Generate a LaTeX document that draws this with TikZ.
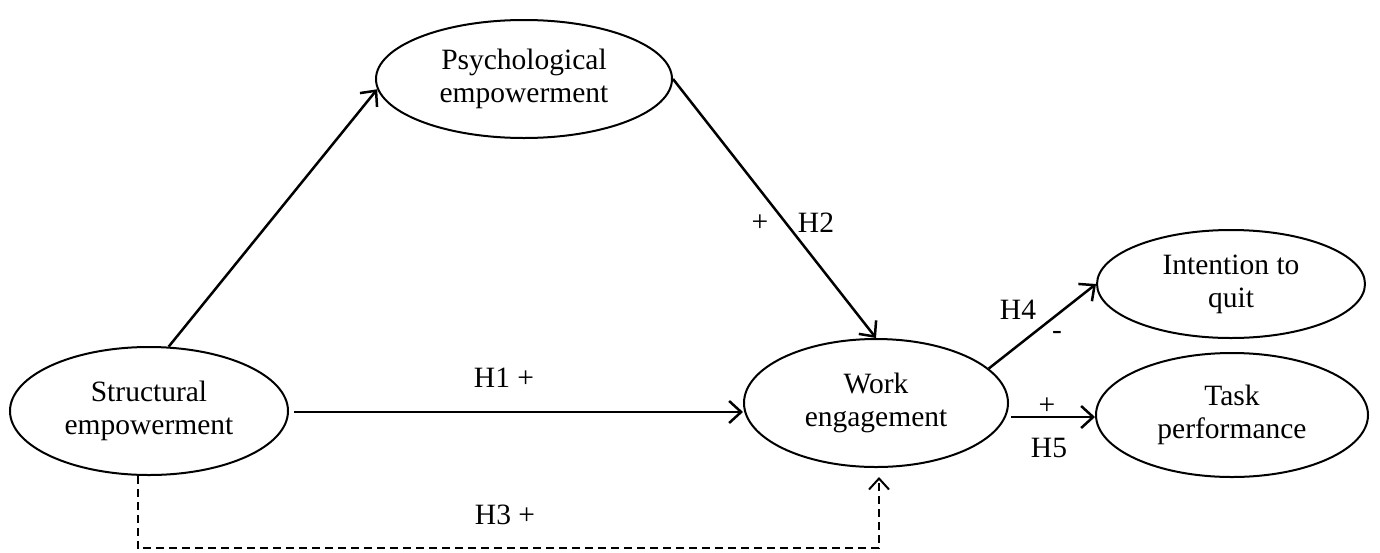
\documentclass[tikz,border=0pt]{standalone}
\usepackage{fontspec}
\setmainfont{Liberation Serif}
\usetikzlibrary{arrows.meta,shapes.geometric}
\begin{document}
\begin{tikzpicture}[x=1pt,y=-1pt,
  construct/.style={draw, ellipse, line width=2pt, inner sep=0pt, align=center,
    font=\fontsize{29.5}{33}\selectfont},
  link/.style={line width=2.5pt, -{Straight Barb[length=12pt,width=22pt]}},
  hypo/.style={line width=2pt, -{Straight Barb[length=11pt,width=20pt]}, dash pattern=on 8pt off 5pt},
  lbl/.style={inner sep=0pt, font=\fontsize{29.5}{33}\selectfont},
]
\useasboundingbox (0,0) rectangle (1380,552);

% constructs
\node[construct, minimum width=296pt, minimum height=118pt] (psych) at (524,79) {Psychological\\empowerment};
\node[construct, minimum width=278pt, minimum height=128pt] (struct) at (149,411) {Structural\\empowerment};
\node[construct, minimum width=264pt, minimum height=128pt] (work) at (876,403) {Work\\engagement};
\node[construct, minimum width=268pt, minimum height=108pt] (quit) at (1231,284) {Intention to\\quit};
\node[construct, minimum width=272pt, minimum height=124pt] (task) at (1232,415) {Task\\performance};

% hypothesised paths
\draw[link] (struct.73) -- (psych.184);
\draw[link] (psych.east) -- (work.north);
\draw[link, shorten <=5pt] (struct.east |- 0,412) -- (work.west |- 0,412);
\draw[link] (work.17) -- (quit.west);
\coordinate (h5) at ([xshift=2pt,yshift=-14pt]work.east);
\draw[link] (h5) -- (h5 -| task.west);
\coordinate (h3y) at (0,548);
\draw[hypo, shorten >=9pt] (struct.260) -- (struct.260 |- h3y) -| ([xshift=3pt]work.south);

% path labels
\node[lbl] (h2sign) at (760,223) {+};
\node[lbl] (h2) at (816,223) {H2};
\node[lbl] (h1) at (504,378) {H1 +};
\node[lbl] (h3) at (505,515) {H3 +};
\node[lbl] (h4) at (1018,310) {H4};
\node[lbl] (h4sign) at (1057,335) {-};
\node[lbl] (h5sign) at (1047,406) {+};
\node[lbl] (h5l) at (1049,448) {H5};
\end{tikzpicture}
\end{document}
